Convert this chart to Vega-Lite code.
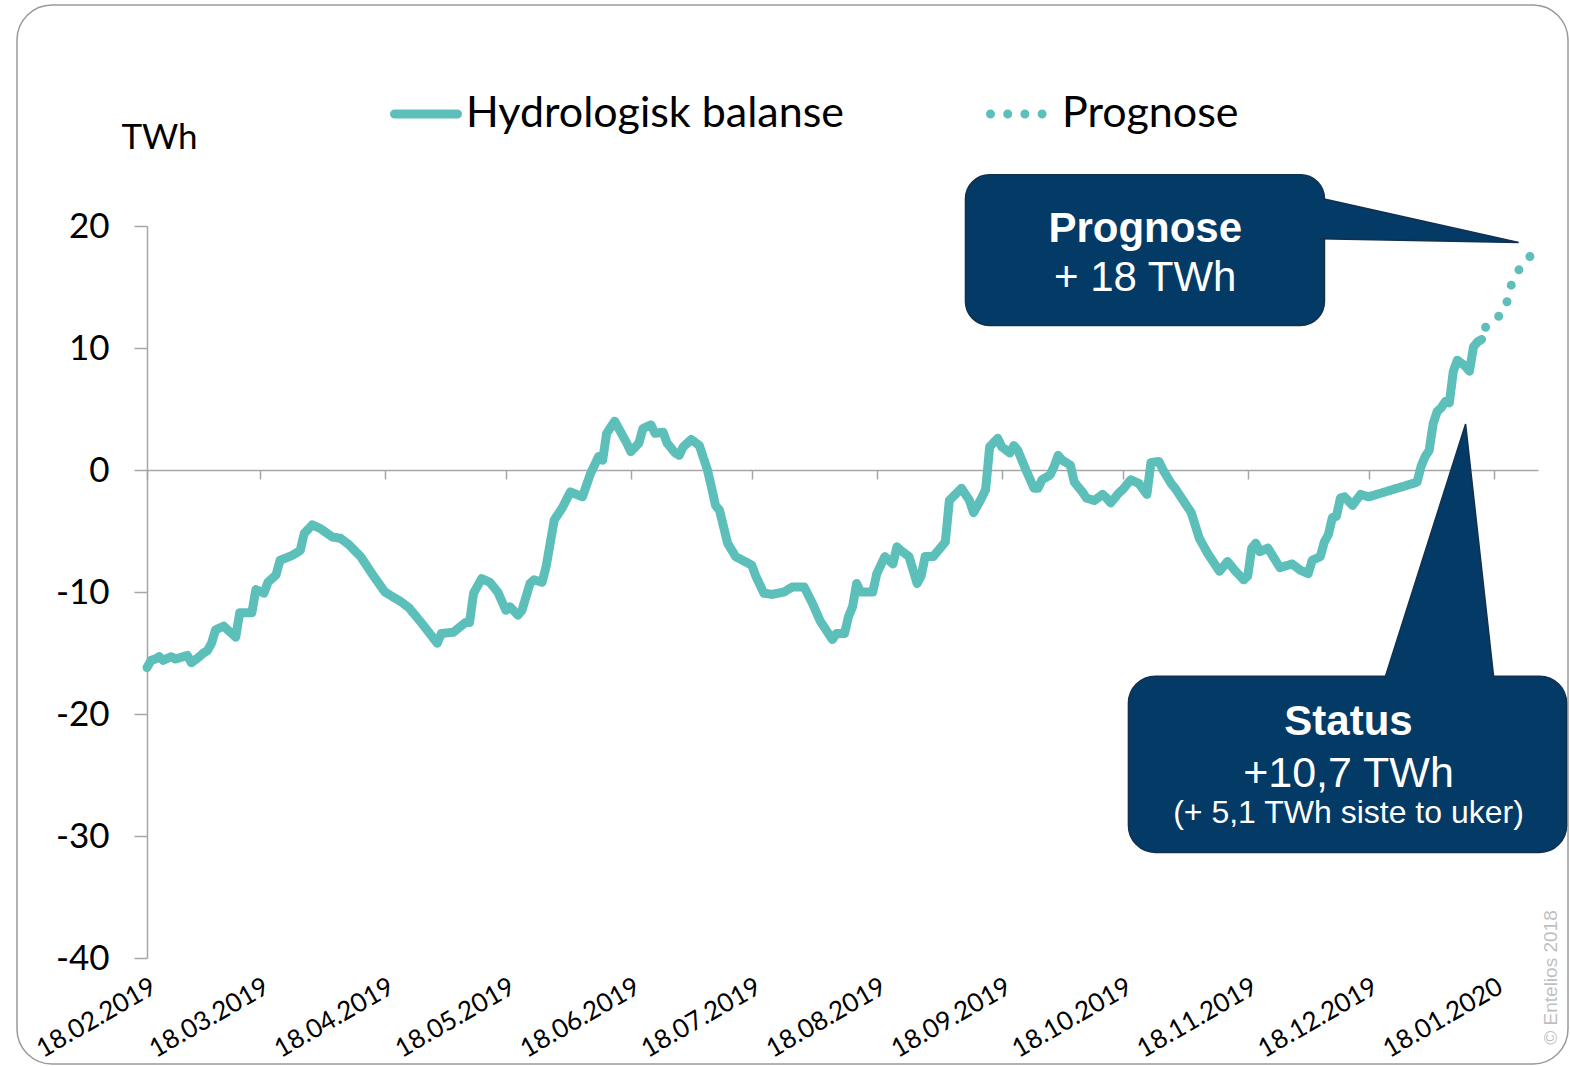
{
  "$schema": "https://vega.github.io/schema/vega-lite/v6.json",
  "width": 1551,
  "height": 1059,
  "autosize": {"type": "none"},
  "padding": {"left": 17, "top": 5, "right": 2, "bottom": 2},
  "background": "white",
  "config": {
    "font": "Lato",
    "view": {"stroke": "#9A9A9A", "strokeWidth": 1.5, "cornerRadius": 35}
  },
  "datasets": {
    "balance": [
      {"date": "2019-02-18", "value": -16.2, "series": "Hydrologisk balanse"},
      {"date": "2019-02-19", "value": -15.6, "series": "Hydrologisk balanse"},
      {"date": "2019-02-20", "value": -15.5, "series": "Hydrologisk balanse"},
      {"date": "2019-02-21", "value": -15.3, "series": "Hydrologisk balanse"},
      {"date": "2019-02-22", "value": -15.6, "series": "Hydrologisk balanse"},
      {"date": "2019-02-24", "value": -15.3, "series": "Hydrologisk balanse"},
      {"date": "2019-02-25", "value": -15.5, "series": "Hydrologisk balanse"},
      {"date": "2019-02-27", "value": -15.3, "series": "Hydrologisk balanse"},
      {"date": "2019-02-28", "value": -15.2, "series": "Hydrologisk balanse"},
      {"date": "2019-03-01", "value": -15.8, "series": "Hydrologisk balanse"},
      {"date": "2019-03-03", "value": -15.3, "series": "Hydrologisk balanse"},
      {"date": "2019-03-04", "value": -15.0, "series": "Hydrologisk balanse"},
      {"date": "2019-03-05", "value": -14.8, "series": "Hydrologisk balanse"},
      {"date": "2019-03-06", "value": -14.2, "series": "Hydrologisk balanse"},
      {"date": "2019-03-07", "value": -13.1, "series": "Hydrologisk balanse"},
      {"date": "2019-03-09", "value": -12.8, "series": "Hydrologisk balanse"},
      {"date": "2019-03-12", "value": -13.7, "series": "Hydrologisk balanse"},
      {"date": "2019-03-13", "value": -11.7, "series": "Hydrologisk balanse"},
      {"date": "2019-03-16", "value": -11.7, "series": "Hydrologisk balanse"},
      {"date": "2019-03-17", "value": -9.8, "series": "Hydrologisk balanse"},
      {"date": "2019-03-19", "value": -10.1, "series": "Hydrologisk balanse"},
      {"date": "2019-03-20", "value": -9.2, "series": "Hydrologisk balanse"},
      {"date": "2019-03-22", "value": -8.6, "series": "Hydrologisk balanse"},
      {"date": "2019-03-23", "value": -7.4, "series": "Hydrologisk balanse"},
      {"date": "2019-03-26", "value": -7.0, "series": "Hydrologisk balanse"},
      {"date": "2019-03-28", "value": -6.6, "series": "Hydrologisk balanse"},
      {"date": "2019-03-29", "value": -5.2, "series": "Hydrologisk balanse"},
      {"date": "2019-03-31", "value": -4.5, "series": "Hydrologisk balanse"},
      {"date": "2019-04-02", "value": -4.8, "series": "Hydrologisk balanse"},
      {"date": "2019-04-05", "value": -5.5, "series": "Hydrologisk balanse"},
      {"date": "2019-04-07", "value": -5.6, "series": "Hydrologisk balanse"},
      {"date": "2019-04-09", "value": -6.1, "series": "Hydrologisk balanse"},
      {"date": "2019-04-12", "value": -7.1, "series": "Hydrologisk balanse"},
      {"date": "2019-04-15", "value": -8.6, "series": "Hydrologisk balanse"},
      {"date": "2019-04-18", "value": -10.0, "series": "Hydrologisk balanse"},
      {"date": "2019-04-22", "value": -10.8, "series": "Hydrologisk balanse"},
      {"date": "2019-04-24", "value": -11.3, "series": "Hydrologisk balanse"},
      {"date": "2019-04-27", "value": -12.5, "series": "Hydrologisk balanse"},
      {"date": "2019-05-01", "value": -14.2, "series": "Hydrologisk balanse"},
      {"date": "2019-05-02", "value": -13.4, "series": "Hydrologisk balanse"},
      {"date": "2019-05-05", "value": -13.3, "series": "Hydrologisk balanse"},
      {"date": "2019-05-08", "value": -12.5, "series": "Hydrologisk balanse"},
      {"date": "2019-05-09", "value": -12.5, "series": "Hydrologisk balanse"},
      {"date": "2019-05-10", "value": -10.1, "series": "Hydrologisk balanse"},
      {"date": "2019-05-12", "value": -8.9, "series": "Hydrologisk balanse"},
      {"date": "2019-05-14", "value": -9.2, "series": "Hydrologisk balanse"},
      {"date": "2019-05-16", "value": -10.0, "series": "Hydrologisk balanse"},
      {"date": "2019-05-18", "value": -11.5, "series": "Hydrologisk balanse"},
      {"date": "2019-05-19", "value": -11.2, "series": "Hydrologisk balanse"},
      {"date": "2019-05-21", "value": -11.9, "series": "Hydrologisk balanse"},
      {"date": "2019-05-22", "value": -11.5, "series": "Hydrologisk balanse"},
      {"date": "2019-05-24", "value": -9.3, "series": "Hydrologisk balanse"},
      {"date": "2019-05-25", "value": -9.0, "series": "Hydrologisk balanse"},
      {"date": "2019-05-27", "value": -9.2, "series": "Hydrologisk balanse"},
      {"date": "2019-05-28", "value": -7.9, "series": "Hydrologisk balanse"},
      {"date": "2019-05-30", "value": -4.1, "series": "Hydrologisk balanse"},
      {"date": "2019-06-01", "value": -3.1, "series": "Hydrologisk balanse"},
      {"date": "2019-06-03", "value": -1.8, "series": "Hydrologisk balanse"},
      {"date": "2019-06-06", "value": -2.2, "series": "Hydrologisk balanse"},
      {"date": "2019-06-08", "value": -0.3, "series": "Hydrologisk balanse"},
      {"date": "2019-06-10", "value": 1.1, "series": "Hydrologisk balanse"},
      {"date": "2019-06-11", "value": 0.8, "series": "Hydrologisk balanse"},
      {"date": "2019-06-12", "value": 3.0, "series": "Hydrologisk balanse"},
      {"date": "2019-06-14", "value": 4.0, "series": "Hydrologisk balanse"},
      {"date": "2019-06-15", "value": 3.4, "series": "Hydrologisk balanse"},
      {"date": "2019-06-17", "value": 2.2, "series": "Hydrologisk balanse"},
      {"date": "2019-06-18", "value": 1.5, "series": "Hydrologisk balanse"},
      {"date": "2019-06-20", "value": 2.2, "series": "Hydrologisk balanse"},
      {"date": "2019-06-21", "value": 3.4, "series": "Hydrologisk balanse"},
      {"date": "2019-06-23", "value": 3.7, "series": "Hydrologisk balanse"},
      {"date": "2019-06-24", "value": 3.0, "series": "Hydrologisk balanse"},
      {"date": "2019-06-26", "value": 3.1, "series": "Hydrologisk balanse"},
      {"date": "2019-06-27", "value": 2.2, "series": "Hydrologisk balanse"},
      {"date": "2019-06-29", "value": 1.4, "series": "Hydrologisk balanse"},
      {"date": "2019-06-30", "value": 1.2, "series": "Hydrologisk balanse"},
      {"date": "2019-07-01", "value": 1.9, "series": "Hydrologisk balanse"},
      {"date": "2019-07-03", "value": 2.5, "series": "Hydrologisk balanse"},
      {"date": "2019-07-05", "value": 2.0, "series": "Hydrologisk balanse"},
      {"date": "2019-07-07", "value": 0.0, "series": "Hydrologisk balanse"},
      {"date": "2019-07-08", "value": -1.4, "series": "Hydrologisk balanse"},
      {"date": "2019-07-09", "value": -2.9, "series": "Hydrologisk balanse"},
      {"date": "2019-07-10", "value": -3.3, "series": "Hydrologisk balanse"},
      {"date": "2019-07-12", "value": -6.0, "series": "Hydrologisk balanse"},
      {"date": "2019-07-14", "value": -7.1, "series": "Hydrologisk balanse"},
      {"date": "2019-07-18", "value": -7.8, "series": "Hydrologisk balanse"},
      {"date": "2019-07-19", "value": -8.7, "series": "Hydrologisk balanse"},
      {"date": "2019-07-21", "value": -10.1, "series": "Hydrologisk balanse"},
      {"date": "2019-07-23", "value": -10.2, "series": "Hydrologisk balanse"},
      {"date": "2019-07-26", "value": -10.0, "series": "Hydrologisk balanse"},
      {"date": "2019-07-28", "value": -9.6, "series": "Hydrologisk balanse"},
      {"date": "2019-07-31", "value": -9.6, "series": "Hydrologisk balanse"},
      {"date": "2019-08-02", "value": -10.9, "series": "Hydrologisk balanse"},
      {"date": "2019-08-04", "value": -12.4, "series": "Hydrologisk balanse"},
      {"date": "2019-08-07", "value": -13.9, "series": "Hydrologisk balanse"},
      {"date": "2019-08-08", "value": -13.4, "series": "Hydrologisk balanse"},
      {"date": "2019-08-10", "value": -13.4, "series": "Hydrologisk balanse"},
      {"date": "2019-08-11", "value": -12.0, "series": "Hydrologisk balanse"},
      {"date": "2019-08-12", "value": -11.2, "series": "Hydrologisk balanse"},
      {"date": "2019-08-13", "value": -9.3, "series": "Hydrologisk balanse"},
      {"date": "2019-08-14", "value": -10.0, "series": "Hydrologisk balanse"},
      {"date": "2019-08-17", "value": -10.0, "series": "Hydrologisk balanse"},
      {"date": "2019-08-18", "value": -8.5, "series": "Hydrologisk balanse"},
      {"date": "2019-08-20", "value": -7.1, "series": "Hydrologisk balanse"},
      {"date": "2019-08-22", "value": -7.7, "series": "Hydrologisk balanse"},
      {"date": "2019-08-23", "value": -6.3, "series": "Hydrologisk balanse"},
      {"date": "2019-08-24", "value": -6.6, "series": "Hydrologisk balanse"},
      {"date": "2019-08-26", "value": -7.1, "series": "Hydrologisk balanse"},
      {"date": "2019-08-28", "value": -9.3, "series": "Hydrologisk balanse"},
      {"date": "2019-08-29", "value": -8.7, "series": "Hydrologisk balanse"},
      {"date": "2019-08-30", "value": -7.1, "series": "Hydrologisk balanse"},
      {"date": "2019-09-01", "value": -7.1, "series": "Hydrologisk balanse"},
      {"date": "2019-09-03", "value": -6.3, "series": "Hydrologisk balanse"},
      {"date": "2019-09-04", "value": -5.9, "series": "Hydrologisk balanse"},
      {"date": "2019-09-05", "value": -2.5, "series": "Hydrologisk balanse"},
      {"date": "2019-09-08", "value": -1.5, "series": "Hydrologisk balanse"},
      {"date": "2019-09-10", "value": -2.5, "series": "Hydrologisk balanse"},
      {"date": "2019-09-11", "value": -3.5, "series": "Hydrologisk balanse"},
      {"date": "2019-09-13", "value": -2.3, "series": "Hydrologisk balanse"},
      {"date": "2019-09-14", "value": -1.6, "series": "Hydrologisk balanse"},
      {"date": "2019-09-15", "value": 1.9, "series": "Hydrologisk balanse"},
      {"date": "2019-09-17", "value": 2.6, "series": "Hydrologisk balanse"},
      {"date": "2019-09-18", "value": 1.9, "series": "Hydrologisk balanse"},
      {"date": "2019-09-20", "value": 1.4, "series": "Hydrologisk balanse"},
      {"date": "2019-09-21", "value": 2.0, "series": "Hydrologisk balanse"},
      {"date": "2019-09-22", "value": 1.6, "series": "Hydrologisk balanse"},
      {"date": "2019-09-24", "value": 0.0, "series": "Hydrologisk balanse"},
      {"date": "2019-09-26", "value": -1.5, "series": "Hydrologisk balanse"},
      {"date": "2019-09-27", "value": -1.5, "series": "Hydrologisk balanse"},
      {"date": "2019-09-28", "value": -0.8, "series": "Hydrologisk balanse"},
      {"date": "2019-09-30", "value": -0.4, "series": "Hydrologisk balanse"},
      {"date": "2019-10-01", "value": 0.3, "series": "Hydrologisk balanse"},
      {"date": "2019-10-02", "value": 1.2, "series": "Hydrologisk balanse"},
      {"date": "2019-10-03", "value": 0.8, "series": "Hydrologisk balanse"},
      {"date": "2019-10-05", "value": 0.4, "series": "Hydrologisk balanse"},
      {"date": "2019-10-06", "value": -1.0, "series": "Hydrologisk balanse"},
      {"date": "2019-10-08", "value": -1.8, "series": "Hydrologisk balanse"},
      {"date": "2019-10-09", "value": -2.3, "series": "Hydrologisk balanse"},
      {"date": "2019-10-11", "value": -2.5, "series": "Hydrologisk balanse"},
      {"date": "2019-10-13", "value": -2.0, "series": "Hydrologisk balanse"},
      {"date": "2019-10-14", "value": -2.3, "series": "Hydrologisk balanse"},
      {"date": "2019-10-15", "value": -2.7, "series": "Hydrologisk balanse"},
      {"date": "2019-10-17", "value": -1.9, "series": "Hydrologisk balanse"},
      {"date": "2019-10-18", "value": -1.6, "series": "Hydrologisk balanse"},
      {"date": "2019-10-20", "value": -0.8, "series": "Hydrologisk balanse"},
      {"date": "2019-10-22", "value": -1.1, "series": "Hydrologisk balanse"},
      {"date": "2019-10-24", "value": -2.0, "series": "Hydrologisk balanse"},
      {"date": "2019-10-25", "value": 0.6, "series": "Hydrologisk balanse"},
      {"date": "2019-10-27", "value": 0.7, "series": "Hydrologisk balanse"},
      {"date": "2019-10-28", "value": 0.0, "series": "Hydrologisk balanse"},
      {"date": "2019-10-30", "value": -1.1, "series": "Hydrologisk balanse"},
      {"date": "2019-10-31", "value": -1.5, "series": "Hydrologisk balanse"},
      {"date": "2019-11-02", "value": -2.5, "series": "Hydrologisk balanse"},
      {"date": "2019-11-04", "value": -3.5, "series": "Hydrologisk balanse"},
      {"date": "2019-11-06", "value": -5.6, "series": "Hydrologisk balanse"},
      {"date": "2019-11-08", "value": -6.8, "series": "Hydrologisk balanse"},
      {"date": "2019-11-11", "value": -8.3, "series": "Hydrologisk balanse"},
      {"date": "2019-11-13", "value": -7.5, "series": "Hydrologisk balanse"},
      {"date": "2019-11-15", "value": -8.3, "series": "Hydrologisk balanse"},
      {"date": "2019-11-17", "value": -9.0, "series": "Hydrologisk balanse"},
      {"date": "2019-11-18", "value": -8.7, "series": "Hydrologisk balanse"},
      {"date": "2019-11-19", "value": -6.4, "series": "Hydrologisk balanse"},
      {"date": "2019-11-20", "value": -6.0, "series": "Hydrologisk balanse"},
      {"date": "2019-11-21", "value": -6.7, "series": "Hydrologisk balanse"},
      {"date": "2019-11-23", "value": -6.4, "series": "Hydrologisk balanse"},
      {"date": "2019-11-26", "value": -8.0, "series": "Hydrologisk balanse"},
      {"date": "2019-11-29", "value": -7.7, "series": "Hydrologisk balanse"},
      {"date": "2019-12-01", "value": -8.2, "series": "Hydrologisk balanse"},
      {"date": "2019-12-03", "value": -8.5, "series": "Hydrologisk balanse"},
      {"date": "2019-12-04", "value": -7.4, "series": "Hydrologisk balanse"},
      {"date": "2019-12-06", "value": -7.1, "series": "Hydrologisk balanse"},
      {"date": "2019-12-07", "value": -5.9, "series": "Hydrologisk balanse"},
      {"date": "2019-12-08", "value": -5.3, "series": "Hydrologisk balanse"},
      {"date": "2019-12-09", "value": -3.9, "series": "Hydrologisk balanse"},
      {"date": "2019-12-10", "value": -3.8, "series": "Hydrologisk balanse"},
      {"date": "2019-12-11", "value": -2.3, "series": "Hydrologisk balanse"},
      {"date": "2019-12-12", "value": -2.2, "series": "Hydrologisk balanse"},
      {"date": "2019-12-14", "value": -2.9, "series": "Hydrologisk balanse"},
      {"date": "2019-12-16", "value": -2.0, "series": "Hydrologisk balanse"},
      {"date": "2019-12-18", "value": -2.2, "series": "Hydrologisk balanse"},
      {"date": "2019-12-30", "value": -1.0, "series": "Hydrologisk balanse"},
      {"date": "2019-12-31", "value": 0.3, "series": "Hydrologisk balanse"},
      {"date": "2020-01-01", "value": 1.1, "series": "Hydrologisk balanse"},
      {"date": "2020-01-02", "value": 1.6, "series": "Hydrologisk balanse"},
      {"date": "2020-01-03", "value": 3.8, "series": "Hydrologisk balanse"},
      {"date": "2020-01-04", "value": 4.8, "series": "Hydrologisk balanse"},
      {"date": "2020-01-05", "value": 5.1, "series": "Hydrologisk balanse"},
      {"date": "2020-01-06", "value": 5.6, "series": "Hydrologisk balanse"},
      {"date": "2020-01-07", "value": 5.5, "series": "Hydrologisk balanse"},
      {"date": "2020-01-08", "value": 8.1, "series": "Hydrologisk balanse"},
      {"date": "2020-01-09", "value": 9.0, "series": "Hydrologisk balanse"},
      {"date": "2020-01-11", "value": 8.5, "series": "Hydrologisk balanse"},
      {"date": "2020-01-12", "value": 8.1, "series": "Hydrologisk balanse"},
      {"date": "2020-01-13", "value": 10.1, "series": "Hydrologisk balanse"},
      {"date": "2020-01-14", "value": 10.5, "series": "Hydrologisk balanse"},
      {"date": "2020-01-15", "value": 10.7, "series": "Hydrologisk balanse"},
      {"date": "2020-01-15", "value": 10.7, "series": "Prognose"},
      {"date": "2020-01-16", "value": 11.7, "series": "Prognose"},
      {"date": "2020-01-19", "value": 12.5, "series": "Prognose"},
      {"date": "2020-01-21", "value": 13.3, "series": "Prognose"},
      {"date": "2020-01-22", "value": 14.9, "series": "Prognose"},
      {"date": "2020-01-24", "value": 16.3, "series": "Prognose"},
      {"date": "2020-01-27", "value": 17.5, "series": "Prognose"}
    ]
  },
  "layer": [
    {
      "data": {"name": "balance"},
      "mark": {"type": "line", "strokeWidth": 9, "strokeCap": "round", "strokeJoin": "round", "strokeDashOffset": 4.4},
      "encoding": {
        "x": {
          "field": "date", "type": "temporal",
          "scale": {
            "type": "utc",
            "domain": [{"year": 2019, "month": 2, "date": 18, "utc": true}, {"year": 2020, "month": 1, "date": 29, "utc": true}],
            "range": [130, 1521]
          },
          "axis": {
            "orient": "bottom", "offset": -594, "title": null, "grid": false,
            "values": [
              {"year": 2019, "month": 2, "date": 18, "utc": true},
              {"year": 2019, "month": 3, "date": 18, "utc": true},
              {"year": 2019, "month": 4, "date": 18, "utc": true},
              {"year": 2019, "month": 5, "date": 18, "utc": true},
              {"year": 2019, "month": 6, "date": 18, "utc": true},
              {"year": 2019, "month": 7, "date": 18, "utc": true},
              {"year": 2019, "month": 8, "date": 18, "utc": true},
              {"year": 2019, "month": 9, "date": 18, "utc": true},
              {"year": 2019, "month": 10, "date": 18, "utc": true},
              {"year": 2019, "month": 11, "date": 18, "utc": true},
              {"year": 2019, "month": 12, "date": 18, "utc": true},
              {"year": 2020, "month": 1, "date": 18, "utc": true}
            ],
            "format": "%d.%m.%Y",
            "labelAngle": -30, "labelAlign": "right", "labelBaseline": "top",
            "labelPadding": 494, "tickSize": 9, "tickWidth": 1.5, "tickColor": "#A6A6A6",
            "domainColor": "#A6A6A6", "domainWidth": 1.5,
            "labelFont": "Lato", "labelFontSize": 26, "labelColor": "#000000",
            "labelOverlap": false, "labelBound": false, "labelFlush": false
          }
        },
        "y": {
          "field": "value", "type": "quantitative",
          "scale": {"domain": [-40, 20], "range": [953, 221], "nice": false, "zero": false},
          "axis": {
            "orient": "left", "offset": -130, "grid": false,
            "values": [-40, -30, -20, -10, 0, 10, 20],
            "labelExpr": "'' + datum.value",
            "tickSize": 13, "tickWidth": 1.5, "tickColor": "#A6A6A6",
            "domainColor": "#A6A6A6", "domainWidth": 1.5,
            "labelPadding": 25, "labelFont": "Lato", "labelFontSize": 35, "labelColor": "#000000",
            "title": "TWh", "titleAngle": 0, "titleX": 12, "titleY": 143,
            "titleAlign": "center", "titleBaseline": "alphabetic",
            "titleFont": "Lato", "titleFontSize": 35, "titleFontWeight": "normal", "titleColor": "#000000"
          }
        },
        "color": {
          "field": "series", "type": "nominal",
          "scale": {"domain": ["Hydrologisk balanse", "Prognose"], "range": ["#5DBFBA", "#5DBFBA"]},
          "legend": {
            "orient": "none", "legendX": 373, "legendY": 73, "direction": "horizontal", "title": null,
            "symbolType": "stroke", "symbolSize": 3969, "symbolStrokeWidth": 9,
            "labelFont": "Lato", "labelFontSize": 43, "labelColor": "#000000", "labelLimit": 1000,
            "labelOffset": 4, "columnPadding": 128, "padding": 0,
            "encode": {"symbols": {"update": {"strokeCap": {"value": "round"}}}}
          }
        },
        "strokeDash": {
          "field": "series", "type": "nominal",
          "scale": {"domain": ["Hydrologisk balanse", "Prognose"], "range": [[1, 0], [0, 17.2]]},
          "legend": {
            "orient": "none", "legendX": 373, "legendY": 73, "direction": "horizontal", "title": null,
            "symbolType": "stroke", "symbolSize": 3969, "symbolStrokeWidth": 9,
            "labelFont": "Lato", "labelFontSize": 43, "labelColor": "#000000", "labelLimit": 1000,
            "labelOffset": 4, "columnPadding": 128, "padding": 0,
            "encode": {"symbols": {"update": {"strokeCap": {"value": "round"}}}}
          }
        }
      }
    },
    {
      "data": {"values": [{}]},
      "mark": {"type": "rect", "fill": "#033A66", "stroke": "#12304F", "strokeWidth": 1.5, "cornerRadius": 24},
      "encoding": {
        "x": {"datum": {"year": 2019, "month": 9, "date": 9, "utc": true}, "type": "temporal"},
        "x2": {"datum": {"year": 2019, "month": 12, "date": 7, "hours": 1, "utc": true}},
        "y": {"datum": 24.2, "type": "quantitative"},
        "y2": {"datum": 11.85}
      }
    },
    {
      "data": {"values": [{}]},
      "mark": {"type": "point", "shape": "M-199,-44.4L0,0L-199,-3.6", "size": 4, "filled": true, "fill": "#033A66", "stroke": "#12304F", "strokeWidth": 1.5, "opacity": 1},
      "encoding": {
        "x": {"datum": {"year": 2020, "month": 1, "date": 24, "hours": 5, "utc": true}, "type": "temporal"},
        "y": {"datum": 18.65, "type": "quantitative"}
      }
    },
    {
      "data": {"values": [{}]},
      "mark": {"type": "rect", "fill": "#033A66", "stroke": "#12304F", "strokeWidth": 1.5, "cornerRadius": 27},
      "encoding": {
        "x": {"datum": {"year": 2019, "month": 10, "date": 19, "hours": 10, "utc": true}, "type": "temporal"},
        "x2": {"datum": {"year": 2020, "month": 2, "date": 5, "hours": 2, "utc": true}},
        "y": {"datum": -16.9, "type": "quantitative"},
        "y2": {"datum": -31.35}
      }
    },
    {
      "data": {"values": [{}]},
      "mark": {"type": "point", "shape": "M-81.3,256L0,0L28.4,256", "size": 4, "filled": true, "fill": "#033A66", "stroke": "#12304F", "strokeWidth": 1.5, "opacity": 1},
      "encoding": {
        "x": {"datum": {"year": 2020, "month": 1, "date": 11, "hours": 1, "utc": true}, "type": "temporal"},
        "y": {"datum": 3.77, "type": "quantitative"}
      }
    },
    {
      "data": {"values": [{}]},
      "mark": {"type": "text", "text": "Prognose", "font": "Liberation Sans", "fontSize": 42, "fontWeight": "bold", "color": "#FFFFFF", "align": "center", "baseline": "alphabetic"},
      "encoding": {
        "x": {"datum": {"year": 2019, "month": 10, "date": 23, "hours": 14, "utc": true}, "type": "temporal"},
        "y": {"datum": 18.69, "type": "quantitative"}
      }
    },
    {
      "data": {"values": [{}]},
      "mark": {"type": "text", "text": "+ 18 TWh", "font": "Liberation Sans", "fontSize": 42, "color": "#FFFFFF", "align": "center", "baseline": "alphabetic"},
      "encoding": {
        "x": {"datum": {"year": 2019, "month": 10, "date": 23, "hours": 14, "utc": true}, "type": "temporal"},
        "y": {"datum": 14.67, "type": "quantitative"}
      }
    },
    {
      "data": {"values": [{}]},
      "mark": {"type": "text", "text": "Status", "font": "Liberation Sans", "fontSize": 42, "fontWeight": "bold", "color": "#FFFFFF", "align": "center", "baseline": "alphabetic"},
      "encoding": {
        "x": {"datum": {"year": 2019, "month": 12, "date": 13, "utc": true}, "type": "temporal"},
        "y": {"datum": -21.72, "type": "quantitative"}
      }
    },
    {
      "data": {"values": [{}]},
      "mark": {"type": "text", "text": "+10,7 TWh", "font": "Liberation Sans", "fontSize": 43, "color": "#FFFFFF", "align": "center", "baseline": "alphabetic"},
      "encoding": {
        "x": {"datum": {"year": 2019, "month": 12, "date": 13, "utc": true}, "type": "temporal"},
        "y": {"datum": -25.96, "type": "quantitative"}
      }
    },
    {
      "data": {"values": [{}]},
      "mark": {"type": "text", "text": "(+ 5,1 TWh siste to uker)", "font": "Liberation Sans", "fontSize": 32, "color": "#FFFFFF", "align": "center", "baseline": "alphabetic"},
      "encoding": {
        "x": {"datum": {"year": 2019, "month": 12, "date": 13, "utc": true}, "type": "temporal"},
        "y": {"datum": -28.96, "type": "quantitative"}
      }
    },
    {
      "data": {"values": [{}]},
      "mark": {"type": "text", "text": "© Entelios 2018", "font": "Liberation Sans", "fontSize": 19, "color": "#BFBFBF", "angle": 270, "align": "center", "baseline": "middle"},
      "encoding": {
        "x": {"datum": {"year": 2020, "month": 2, "date": 1, "hours": 3, "utc": true}, "type": "temporal"},
        "y": {"datum": -41.6, "type": "quantitative"}
      }
    }
  ]
}
